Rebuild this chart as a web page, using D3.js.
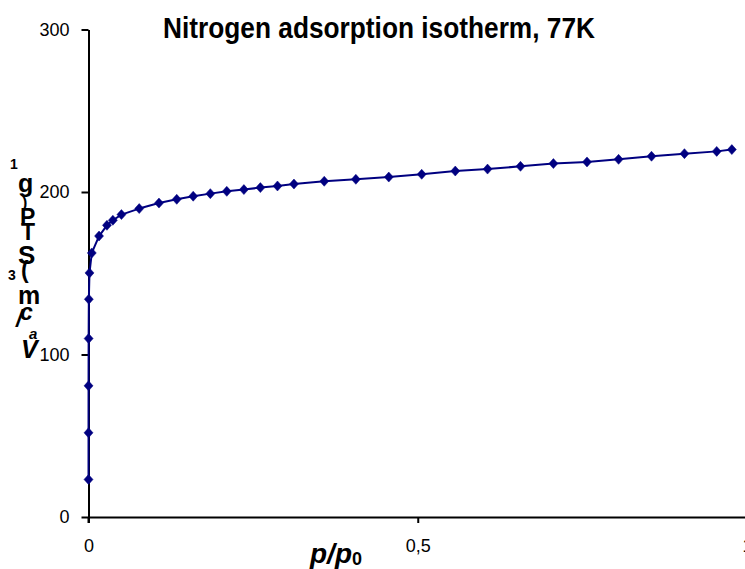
<!DOCTYPE html>
<html>
<head>
<meta charset="utf-8">
<script src="https://cdn.jsdelivr.net/npm/d3@7"></script>
<style>
  html, body { margin: 0; padding: 0; background: #fff; overflow: hidden; }
  svg { display: block; font-family: "Liberation Sans", Arial, sans-serif; }
</style>
</head>
<body>
<svg id="chart" width="745" height="569"></svg>
<script>
// ---- data ----
const relPressure = [0.00001, 0.00003, 0.00007, 0.0002, 0.0005, 0.0015, 0.005, 0.016, 0.028, 0.037, 0.050, 0.077, 0.107, 0.134, 0.159, 0.185, 0.210, 0.236, 0.261, 0.287, 0.312, 0.358, 0.406, 0.456, 0.506, 0.557, 0.606, 0.656, 0.706, 0.757, 0.805, 0.855, 0.905, 0.954, 0.977];
const adsorbedVolume = [23.1, 51.8, 80.7, 109.8, 134.0, 150.2, 162.5, 172.9, 179.5, 182.6, 186.1, 189.8, 193.2, 195.5, 197.4, 199.0, 200.4, 201.5, 202.7, 203.7, 204.9, 206.6, 207.8, 209.2, 210.9, 212.9, 214.1, 215.8, 217.5, 218.5, 220.1, 222.0, 223.6, 225.0, 226.1];
const xTicks = [0, 0.5, 1];
const xTickLabels = ["0", "0,5", "1"];
const yTicks = [0, 100, 200, 300];
const titleText = "Nitrogen adsorption isotherm, 77K";

const data = relPressure.map((p, i) => ({ p, v: adsorbedVolume[i] }));

const svg = d3.select("#chart");
const x = d3.scaleLinear().domain([0, 1]).range([88.5, 747]);
const y = d3.scaleLinear().domain([0, 300]).range([517, 29.5]);
const navy = "#000080";

// title
svg.append("text")
  .attr("x", 163).attr("y", 38)
  .attr("font-size", 29).attr("font-weight", "bold")
  .attr("textLength", 432).attr("lengthAdjust", "spacingAndGlyphs")
  .attr("fill", "#000")
  .text(titleText);

// axes
const yAxis = d3.axisLeft(y).tickValues(yTicks).tickSize(7).tickSizeOuter(0).tickPadding(12);
const gy = svg.append("g").attr("transform", `translate(${x(0)},0)`).call(yAxis);
const xAxis = d3.axisBottom(x).tickValues(xTicks).tickSize(6).tickSizeOuter(0).tickPadding(16)
  .tickFormat((d, i) => xTickLabels[i]);
const gx = svg.append("g").attr("transform", `translate(0,${y(0)})`).call(xAxis);

[gx, gy].forEach(g => {
  g.select(".domain").attr("stroke", "#000").attr("stroke-width", 2);
  g.selectAll(".tick line").attr("stroke", "#000").attr("stroke-width", 2);
  g.selectAll(".tick text").attr("font-size", 18).attr("fill", "#000")
    .attr("font-family", "'Liberation Sans', Arial, sans-serif");
});
// left axis extends slightly below the x axis
svg.append("line").attr("x1", x(0)).attr("x2", x(0)).attr("y1", y(0)).attr("y2", y(0) + 6)
  .attr("stroke", "#000").attr("stroke-width", 2);

// x axis title p/p0
const xt = svg.append("text").attr("x", 310).attr("y", 563)
  .attr("font-size", 28).attr("font-weight", "bold").attr("fill", "#000");
xt.append("tspan").attr("font-style", "italic").text("p/p");
xt.append("tspan").attr("font-size", 18).attr("dy", 2).text("0");

// y axis label, glyphs stacked (as in the reference rendering)
const yLabelGlyphs = [
  ["1", 10, 169, 14, "normal"],
  ["g", 18, 192, 25, "normal"],
  [")", 22, 208, 16, "normal"],
  ["P", 20, 225, 23, "normal"],
  ["T", 21, 240, 23, "normal"],
  ["S", 18, 264, 26, "normal"],
  ["(", 21, 278, 23, "normal"],
  ["3", 8, 280, 14, "normal"],
  ["m", 18, 304, 25, "normal"],
  ["c", 20, 320, 23, "italic"],
  ["/", 16, 327, 23, "italic"],
  ["a", 29, 339, 15, "italic"],
  ["V", 21, 358, 25, "italic"]
];
svg.append("g").selectAll("text").data(yLabelGlyphs).join("text")
  .attr("x", d => d[1]).attr("y", d => d[2])
  .attr("font-size", d => d[3]).attr("font-style", d => d[4])
  .attr("font-weight", "bold").attr("fill", "#000")
  .text(d => d[0]);

// series line
const line = d3.line().x(d => x(d.p)).y(d => y(d.v));
svg.append("path").datum(data)
  .attr("fill", "none").attr("stroke", navy).attr("stroke-width", 2)
  .attr("stroke-linejoin", "round").attr("d", line);

// diamond markers
svg.append("g").selectAll("path").data(data).join("path")
  .attr("transform", d => `translate(${x(d.p)},${y(d.v)})`)
  .attr("d", "M0,-5L4.5,0L0,5L-4.5,0Z")
  .attr("fill", navy).attr("stroke", navy).attr("stroke-width", 0.5);
</script>
</body>
</html>
